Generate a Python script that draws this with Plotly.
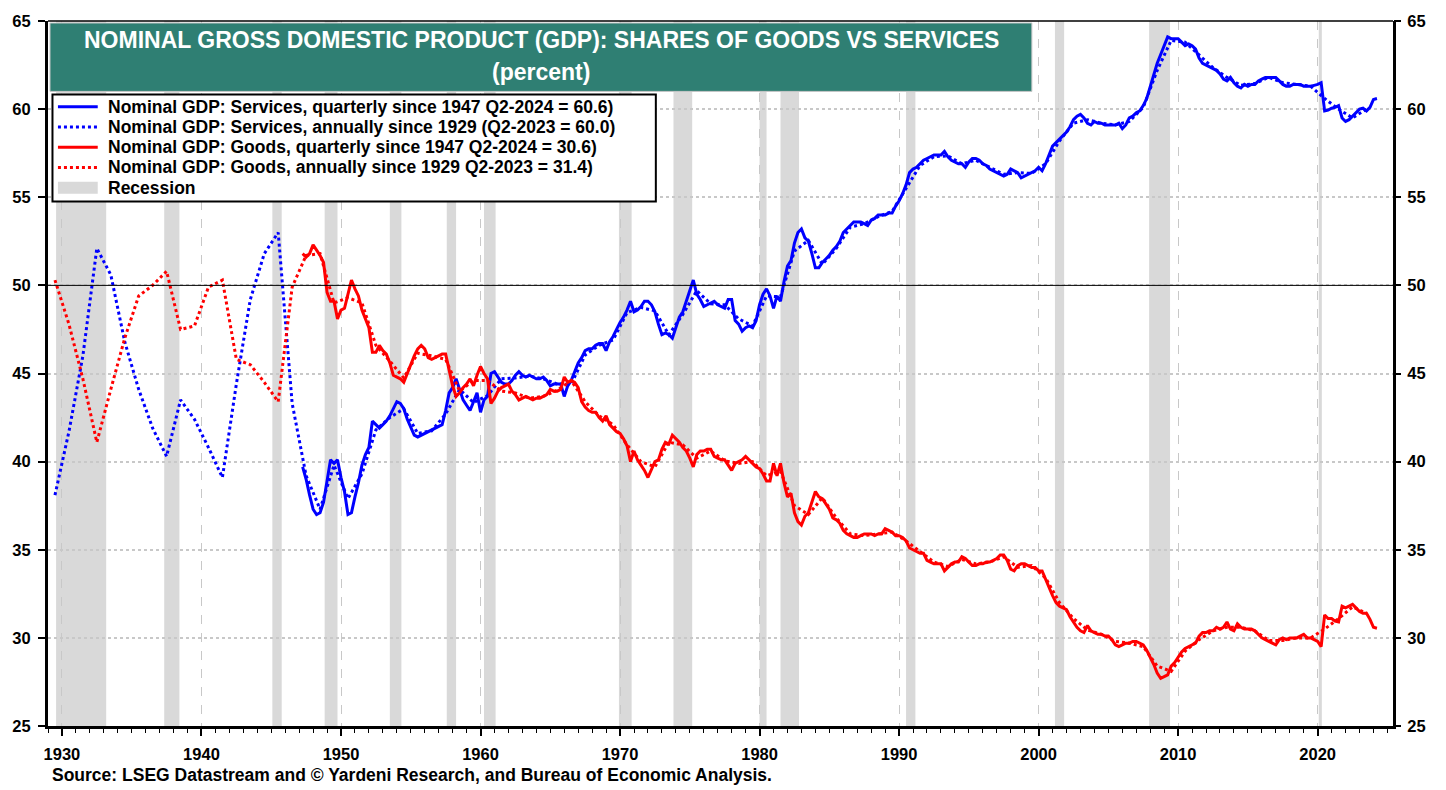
import plotly.graph_objects as go

# ------------------------------------------------------------------ data
annual_years = list(range(1929, 2024))
services_annual = [
    38.1, 41.7, 46.0, 52.1, 50.6, 46.8, 44.1, 41.9, 40.3, 43.5,   # 1929-1938
    42.4, 40.8, 39.1, 44.4, 49.2, 51.8, 53.0, 43.3, 39.2, 37.3,   # 1939-1948
    39.8, 37.9, 39.3, 41.8, 42.5, 43.0, 41.6, 41.75, 42.7, 44.1,  # 1949-1958
    43.35, 43.75, 44.7, 44.75, 44.85, 44.7, 44.4, 44.4, 46.05, 46.6,  # 1959-1968
    46.9, 48.45, 48.75, 48.55, 47.2, 48.35, 49.7, 48.95, 48.9, 48.1,  # 1969-1978
    47.7, 49.4, 49.35, 51.95, 52.55, 51.2, 52.1, 53.3, 53.5, 53.9,    # 1979-1988
    54.2, 55.5, 56.8, 57.3, 57.35, 56.9, 57.1, 56.7, 56.3, 56.4,      # 1989-1998
    56.35, 56.9, 58.2, 59.2, 59.4, 59.2, 59.1, 59.3, 60.1, 62.2,      # 1999-2008
    63.9, 63.8, 63.1, 62.35, 61.8, 61.35, 61.45, 61.8, 61.5, 61.4,    # 2009-2018
    61.3, 60.6, 60.0, 59.5, 60.0,                                     # 2019-2023
]
goods_annual = [
    50.3, 47.8, 44.7, 41.1, 44.1, 47.0, 49.4, 50.0, 50.8, 47.5,   # 1929-1938
    47.7, 49.9, 50.3, 45.8, 45.5, 44.5, 43.4, 49.9, 51.7, 51.8,   # 1939-1948
    49.0, 49.3, 49.0, 46.6, 45.7, 44.75, 46.15, 46.0, 45.8, 44.0, # 1949-1958
    44.6, 44.6, 44.0, 43.9, 43.6, 43.7, 44.05, 44.6, 43.4, 42.6,  # 1959-1968
    42.1, 40.95, 40.0, 39.7, 41.1, 40.95, 40.2, 40.6, 40.05, 39.9,  # 1969-1978
    40.0, 39.2, 39.45, 37.5, 37.0, 37.95, 36.8, 35.9, 35.8, 35.9,   # 1979-1988
    36.0, 35.5, 34.9, 34.3, 34.05, 34.45, 34.2, 34.3, 34.6, 34.0,   # 1989-1998
    34.1, 33.4, 32.0, 31.1, 30.45, 30.2, 29.8, 29.7, 29.5, 28.4,    # 1999-2008
    28.1, 29.25, 29.9, 30.4, 30.6, 30.6, 30.4, 29.85, 29.85, 30.0,  # 2009-2018
    30.0, 30.5, 31.1, 31.75, 31.4,                                  # 2019-2023
]

# quarterly, 1947 Q2 .. 2024 Q2
quarterly_first_year = 1947
quarterly_first_quarter = 2
services_quarterly = [
    39.7, 39.0, 38.1,                 # 1947
    37.3, 37.0, 37.1, 37.7,           # 1948
    39.0, 40.1, 39.9, 40.1,           # 1949
    39.1, 38.3, 37.0, 37.1,           # 1950
    38.0, 38.8, 39.8, 40.4,           # 1951
    40.8, 42.3, 42.1, 41.9,           # 1952
    42.1, 42.3, 42.6, 43.0,           # 1953
    43.4, 43.3, 43.0, 42.4,           # 1954
    41.9, 41.5, 41.4, 41.5,           # 1955
    41.6, 41.7, 41.8, 41.9,           # 1956
    42.0, 42.1, 42.9, 43.9,           # 1957
    44.2, 44.7, 44.1, 43.5,           # 1958
    43.2, 42.9, 43.4, 43.9,           # 1959
    42.8, 43.5, 43.7, 45.0,           # 1960
    45.1, 44.8, 44.5, 44.4,           # 1961
    44.4, 44.6, 44.9, 45.1,           # 1962
    44.9, 44.8, 44.9, 44.8,           # 1963
    44.7, 44.7, 44.8, 44.6,           # 1964
    44.3, 44.4, 44.4, 44.4,           # 1965
    43.7, 44.3, 44.6, 45.1,           # 1966
    45.6, 45.9, 46.3, 46.4,           # 1967
    46.4, 46.6, 46.7, 46.7,           # 1968
    46.3, 46.8, 47.1, 47.5,           # 1969
    47.9, 48.2, 48.6, 49.1,           # 1970
    48.5, 48.6, 48.8, 49.1,           # 1971
    49.1, 48.9, 48.5, 47.8,           # 1972
    47.2, 47.3, 47.2, 47.0,           # 1973
    47.6, 48.2, 48.5, 49.1,           # 1974
    49.8, 50.3, 49.5, 49.2,           # 1975
    48.8, 48.9, 49.0, 49.1,           # 1976
    48.9, 48.8, 48.7, 49.2,           # 1977
    49.2, 48.0, 47.8, 47.4,           # 1978
    47.6, 47.7, 47.6, 48.0,           # 1979
    48.9, 49.5, 49.8, 49.4,           # 1980
    48.7, 49.4, 49.1, 50.2,           # 1981
    51.1, 51.4, 52.4, 53.0,           # 1982
    53.2, 52.7, 52.5, 51.8,           # 1983
    51.0, 51.0, 51.3, 51.5,           # 1984
    51.7, 52.0, 52.2, 52.5,           # 1985
    53.0, 53.2, 53.4, 53.6,           # 1986
    53.6, 53.6, 53.5, 53.4,           # 1987
    53.7, 53.8, 54.0, 54.0,           # 1988
    54.0, 54.1, 54.1, 54.5,           # 1989
    54.8, 55.2, 55.7, 56.4,           # 1990
    56.6, 56.7, 56.9, 57.1,           # 1991
    57.2, 57.3, 57.4, 57.4,           # 1992
    57.4, 57.6, 57.3, 57.1,           # 1993
    57.0, 56.9, 56.9, 56.7,           # 1994
    57.0, 57.2, 57.2, 57.1,           # 1995
    56.9, 56.8, 56.6, 56.5,           # 1996
    56.4, 56.3, 56.2, 56.3,           # 1997
    56.6, 56.5, 56.4, 56.1,           # 1998
    56.2, 56.3, 56.4, 56.5,           # 1999
    56.7, 56.5, 56.9, 57.4,           # 2000
    57.9, 58.1, 58.3, 58.5,           # 2001
    58.7, 59.0, 59.4, 59.6,           # 2002
    59.7, 59.5, 59.2, 59.1,           # 2003
    59.3, 59.2, 59.2, 59.1,           # 2004
    59.1, 59.1, 59.1, 59.2,           # 2005
    58.9, 59.1, 59.5, 59.6,           # 2006
    59.8, 59.9, 60.2, 60.6,           # 2007
    61.3, 61.9, 62.6, 63.1,           # 2008
    63.6, 64.1, 64.0, 64.0,           # 2009
    64.0, 63.8, 63.6, 63.7,           # 2010
    63.6, 63.4, 62.9, 62.6,           # 2011
    62.5, 62.4, 62.3, 62.2,           # 2012
    62.0, 61.7, 61.6, 61.8,           # 2013
    61.5, 61.3, 61.2, 61.4,           # 2014
    61.3, 61.4, 61.4, 61.6,           # 2015
    61.7, 61.8, 61.8, 61.8,           # 2016
    61.8, 61.6, 61.4, 61.3,           # 2017
    61.3, 61.4, 61.4, 61.4,           # 2018
    61.3, 61.3, 61.3, 61.35,          # 2019
    61.4, 61.5, 59.9, 59.95,          # 2020
    60.05, 60.1, 60.2, 59.5,          # 2021
    59.3, 59.4, 59.6, 59.8,           # 2022
    60.0, 60.05, 59.9, 60.1,          # 2023
    60.55, 60.6,                      # 2024
]
goods_quarterly = [
    51.8, 51.6, 51.8,                 # 1947
    52.3, 52.0, 51.7, 51.3,           # 1948
    49.6, 49.1, 49.1, 48.1,           # 1949
    48.6, 48.7, 49.5, 50.3,           # 1950
    49.8, 49.4, 48.6, 48.1,           # 1951
    47.6, 46.2, 46.2, 46.6,           # 1952
    46.3, 46.1, 45.6, 44.9,           # 1953
    44.8, 44.7, 44.5, 45.0,           # 1954
    45.6, 46.0, 46.4, 46.6,           # 1955
    46.4, 45.9, 45.8, 45.9,           # 1956
    46.0, 46.1, 46.1, 45.1,           # 1957
    44.3, 43.7, 43.9, 44.2,           # 1958
    44.4, 44.7, 44.3, 44.9,           # 1959
    45.4, 45.0, 44.7, 43.3,           # 1960
    43.6, 44.0, 44.2, 44.3,           # 1961
    44.4, 44.0, 43.8, 43.5,           # 1962
    43.6, 43.7, 43.6, 43.5,           # 1963
    43.6, 43.6, 43.7, 43.8,           # 1964
    44.1, 44.0, 44.0, 44.1,           # 1965
    44.8, 44.5, 44.6, 44.5,           # 1966
    44.2, 43.4, 43.1, 42.9,           # 1967
    42.8, 42.8, 42.5, 42.3,           # 1968
    42.6, 42.1, 41.9, 41.7,           # 1969
    41.6, 41.3, 40.9, 40.0,           # 1970
    40.6, 40.1, 39.8, 39.5,           # 1971
    39.1, 39.6, 40.0, 40.1,           # 1972
    40.7, 41.1, 41.0, 41.5,           # 1973
    41.3, 41.1, 40.8, 40.6,           # 1974
    40.2, 39.7, 40.4, 40.6,           # 1975
    40.6, 40.7, 40.7, 40.3,           # 1976
    40.2, 40.1, 40.1, 39.8,           # 1977
    39.5, 39.9, 40.0, 40.1,           # 1978
    40.3, 40.1, 39.9, 39.7,           # 1979
    39.6, 39.3, 38.9, 38.9,           # 1980
    39.9, 39.2, 39.9, 38.8,           # 1981
    38.0, 38.2, 37.1, 36.6,           # 1982
    36.4, 36.9, 37.1, 37.7,           # 1983
    38.3, 38.0, 37.9, 37.6,           # 1984
    37.3, 36.8, 36.7, 36.5,           # 1985
    36.1, 35.9, 35.8, 35.7,           # 1986
    35.7, 35.8, 35.9, 35.9,           # 1987
    35.9, 35.8, 35.9, 35.9,           # 1988
    36.2, 36.1, 36.0, 35.8,           # 1989
    35.8, 35.7, 35.5, 35.1,           # 1990
    35.0, 34.9, 34.8, 34.8,           # 1991
    34.4, 34.3, 34.2, 34.2,           # 1992
    34.2, 33.8, 34.0, 34.2,           # 1993
    34.3, 34.3, 34.6, 34.5,           # 1994
    34.3, 34.1, 34.1, 34.2,           # 1995
    34.2, 34.3, 34.3, 34.4,           # 1996
    34.5, 34.7, 34.7, 34.4,           # 1997
    33.9, 33.8, 34.1, 34.2,           # 1998
    34.2, 34.1, 34.0, 34.0,           # 1999
    33.8, 33.8, 33.3, 32.8,           # 2000
    32.4, 32.0, 31.8, 31.7,           # 2001
    31.6, 31.2, 30.9, 30.6,           # 2002
    30.4, 30.3, 30.7, 30.4,           # 2003
    30.3, 30.2, 30.2, 30.1,           # 2004
    30.1, 29.9, 29.6, 29.5,           # 2005
    29.6, 29.7, 29.7, 29.8,           # 2006
    29.8, 29.7, 29.6, 29.3,           # 2007
    28.9, 28.5, 28.0, 27.7,           # 2008
    27.8, 27.9, 28.4, 28.6,           # 2009
    28.9, 29.2, 29.4, 29.5,           # 2010
    29.6, 29.7, 30.1, 30.3,           # 2011
    30.3, 30.4, 30.4, 30.6,           # 2012
    30.5, 30.6, 30.9, 30.5,           # 2013
    30.4, 30.8, 30.6, 30.5,           # 2014
    30.5, 30.5, 30.4, 30.2,           # 2015
    30.0, 29.9, 29.8, 29.7,           # 2016
    29.6, 29.9, 30.0, 29.9,           # 2017
    30.0, 30.0, 30.0, 30.1,           # 2018
    30.2, 30.0, 30.0, 29.9,           # 2019
    29.8, 29.5, 31.3, 31.1,           # 2020
    31.1, 30.95, 30.9, 31.8,          # 2021
    31.7, 31.8, 31.9, 31.7,           # 2022
    31.5, 31.4, 31.4, 31.05,          # 2023
    30.6, 30.55,                      # 2024
]

recession_start = [1929.58, 1937.33, 1945.08, 1948.83, 1953.50, 1957.58, 1960.25,
                   1969.92, 1973.83, 1980.00, 1981.50, 1990.50, 2001.17, 2007.92, 2020.08]
recession_end = [1933.17, 1938.42, 1945.75, 1949.75, 1954.33, 1958.25, 1961.08,
                 1970.83, 1975.17, 1980.50, 1982.83, 1991.17, 2001.83, 2009.42, 2020.30]

x_tick_years = list(range(1930, 2030, 10))
y_ticks = list(range(25, 70, 5))

title_line1 = "NOMINAL GROSS DOMESTIC PRODUCT (GDP): SHARES OF GOODS VS SERVICES"
title_line2 = "(percent)"
legend_labels = [
    "Nominal GDP: Services, quarterly since 1947 Q2-2024 = 60.6)",
    "Nominal GDP: Services, annually since 1929 (Q2-2023 = 60.0)",
    "Nominal GDP: Goods, quarterly since 1947 Q2-2024 = 30.6)",
    "Nominal GDP: Goods, annually since 1929 Q2-2023 = 31.4)",
    "Recession",
]
source_text = "Source: LSEG Datastream and \u00a9 Yardeni Research, and Bureau of Economic Analysis."

# ------------------------------------------------------------------ derived x positions
annual_x = [y + 0.5 for y in annual_years]
q0 = quarterly_first_year + (quarterly_first_quarter - 1) / 4
quarterly_x = [q0 + i / 4 for i in range(len(services_quarterly))]

# ------------------------------------------------------------------ styling
BLUE = "#0000FF"
RED = "#FF0000"
TEAL = "#2F7F73"
REC = "#D9D9D9"
FONT = "Liberation Sans, Arial, sans-serif"

W, H = 1446, 790
ML, MR, MT, MB = 41, 53, 15, 64
PW, PH = W - ML - MR, H - MT - MB


def px(xp):
    return (xp - ML) / PW


def py(yp):
    return (H - MB - yp) / PH


fig = go.Figure()

fig.add_trace(go.Scatter(x=quarterly_x, y=services_quarterly, mode="lines",
                         line=dict(color=BLUE, width=3), name=legend_labels[0]))
fig.add_trace(go.Scatter(x=annual_x, y=services_annual, mode="lines",
                         line=dict(color=BLUE, width=3, dash="dot"), name=legend_labels[1]))
fig.add_trace(go.Scatter(x=quarterly_x, y=goods_quarterly, mode="lines",
                         line=dict(color=RED, width=3), name=legend_labels[2]))
fig.add_trace(go.Scatter(x=annual_x, y=goods_annual, mode="lines", yaxis="y2",
                         line=dict(color=RED, width=3, dash="dot"), name=legend_labels[3]))

shapes = []
for s, e in zip(recession_start, recession_end):
    shapes.append(dict(type="rect", xref="x", yref="paper", x0=s, x1=e, y0=0, y1=1,
                       fillcolor=REC, line=dict(width=0), layer="below"))
# 50% reference line
shapes.append(dict(type="line", xref="paper", yref="y", x0=0, x1=1, y0=50, y1=50,
                   line=dict(color="black", width=1), layer="above"))
# top frame line
shapes.append(dict(type="line", xref="paper", yref="paper", x0=0, x1=1, y0=1, y1=1,
                   line=dict(color="black", width=1.5), layer="above"))
# title box
shapes.append(dict(type="rect", xref="paper", yref="paper",
                   x0=px(43), x1=px(1030), y0=py(86), y1=py(17),
                   fillcolor=TEAL, line=dict(color="#C8C8C8", width=1), layer="above"))
# legend box
shapes.append(dict(type="rect", xref="paper", yref="paper",
                   x0=px(45.5), x1=px(652), y0=py(197), y1=py(89),
                   fillcolor="white", line=dict(color="black", width=2), layer="above"))

row_y = [101.5, 121.9, 142.3, 162.7, 183.1]
sample_styles = [(BLUE, "solid"), (BLUE, "dot"), (RED, "solid"), (RED, "dot")]
for (col, dash), yy in zip(sample_styles, row_y[:4]):
    shapes.append(dict(type="line", xref="paper", yref="paper",
                       x0=px(51), x1=px(91), y0=py(yy), y1=py(yy),
                       line=dict(color=col, width=3, dash=dash), layer="above"))
shapes.append(dict(type="rect", xref="paper", yref="paper",
                   x0=px(51), x1=px(91), y0=py(row_y[4] + 6), y1=py(row_y[4] - 6),
                   fillcolor=REC, line=dict(width=0), layer="above"))

annotations = [
    dict(text=f"<b>{title_line1}</b>", xref="paper", yref="paper", x=px(537), y=py(34),
         xanchor="center", yanchor="middle", showarrow=False,
         font=dict(family=FONT, size=23, color="white")),
    dict(text=f"<b>{title_line2}</b>", xref="paper", yref="paper", x=px(537), y=py(66),
         xanchor="center", yanchor="middle", showarrow=False,
         font=dict(family=FONT, size=23, color="white")),
    dict(text=f"<b>{source_text}</b>", xref="paper", yref="paper", x=px(43), y=py(775),
         xanchor="left", yanchor="middle", showarrow=False,
         font=dict(family=FONT, size=17.5, color="black")),
]
for lab, yy in zip(legend_labels, row_y):
    annotations.append(dict(text=f"<b>{lab}</b>", xref="paper", yref="paper",
                            x=px(99), y=py(yy), xanchor="left", yanchor="middle",
                            showarrow=False, font=dict(family=FONT, size=17.5, color="black")))

tickfont = dict(family=FONT, size=16.5, color="black")
x_tick_text = [f"<b>{v}</b>" for v in x_tick_years]
y_tick_text = [f"<b>{v}</b>" for v in y_ticks]

fig.update_layout(
    width=W, height=H,
    margin=dict(l=ML, r=MR, t=MT, b=MB, pad=0),
    paper_bgcolor="white", plot_bgcolor="white",
    showlegend=False,
    font=dict(family=FONT, color="black"),
    shapes=shapes, annotations=annotations,
    xaxis=dict(range=[1929.0, 2025.4], tickmode="array", tickvals=x_tick_years,
               ticktext=x_tick_text,
               ticks="outside", ticklen=7, tickwidth=1.5, tickcolor="black",
               showline=True, linewidth=3, linecolor="black",
               showgrid=True, gridcolor="#C8C8C8", griddash="dash", gridwidth=1,
               zeroline=False, tickfont=tickfont, ticklabelstandoff=4,
               minor=dict(tickmode="linear", tick0=1929, dtick=1, ticks="outside",
                          ticklen=4, tickwidth=1, tickcolor="black", showgrid=False)),
    yaxis=dict(range=[25, 65], tickmode="array", tickvals=y_ticks, ticktext=y_tick_text,
               ticks="outside", ticklen=7, tickwidth=1.5, tickcolor="black",
               showline=True, linewidth=3, linecolor="black", mirror=True,
               showgrid=True, gridcolor="#C8C8C8", griddash="dot", gridwidth=1.5,
               zeroline=False, tickfont=tickfont, ticklabelstandoff=4),
    yaxis2=dict(range=[25, 65], overlaying="y", side="right", tickmode="array",
                tickvals=y_ticks, ticktext=y_tick_text, ticks="outside", ticklen=7,
                tickwidth=1.5, tickcolor="black", showgrid=False, zeroline=False,
                showline=False, tickfont=tickfont, ticklabelstandoff=3),
)

fig.write_html("out.html", config={"displayModeBar": False},
               post_script="document.body.style.margin='0px';")
